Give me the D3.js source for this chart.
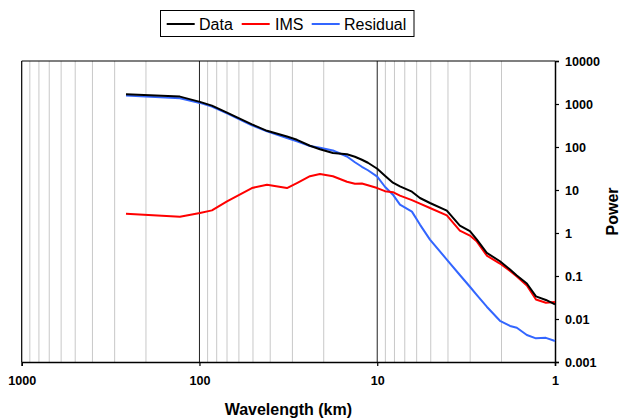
<!DOCTYPE html>
<html>
<head>
<meta charset="utf-8">
<script src="https://cdn.jsdelivr.net/npm/d3@7"></script>
<style>
  body { margin: 0; background: #fff; }
  svg { display: block; font-family: "Liberation Sans", Arial, sans-serif; }
</style>
</head>
<body>
<svg id="chart" width="622" height="420"></svg>
<script>
// Wavelength (km) sample positions
const wavelength = [259, 128.8, 99.4, 85.1, 70.0, 50.7, 41.7, 32.2, 28.3, 23.9, 21.0, 17.75, 14.8, 13.35, 12.2, 11.28, 10.0, 9.05, 8.16, 7.45, 6.38, 5.75, 5.05, 4.06, 3.43, 3.01, 2.75, 2.42, 2.04, 1.79, 1.64, 1.44, 1.28, 1.125, 1.0];
// Power values per series
const dataSeries = [1688, 1485, 1119, 918, 628, 336, 238, 175, 147, 107, 88.4, 72.2, 67.7, 59.2, 50.5, 43.0, 31.2, 21.5, 14.8, 12.1, 9.13, 6.52, 4.99, 3.31, 1.48, 1.10, 0.703, 0.345, 0.2205, 0.1415, 0.1027, 0.067, 0.0335, 0.0277, 0.0218];
const imsSeries = [2.82, 2.40, 2.93, 3.36, 5.44, 11.1, 13.3, 11.1, 14.5, 20.9, 23.5, 20.9, 15.6, 14.0, 14.2, 12.9, 11.1, 9.38, 8.89, 7.38, 5.80, 4.81, 3.82, 2.57, 1.14, 0.87, 0.632, 0.299, 0.195, 0.1306, 0.0974, 0.0602, 0.0285, 0.0239, 0.0247];
const residualSeries = [1566, 1363, 1060, 870, 605, 319, 231, 161, 136, 105, 95.8, 83.0, 60.2, 44.2, 34.7, 28.8, 20.4, 11.9, 7.78, 4.56, 3.14, 1.57, 0.703, 0.241, 0.1055, 0.0562, 0.0358, 0.0193, 0.00908, 0.00688, 0.00628, 0.00425, 0.00355, 0.00364, 0.00307];

const seriesNames = ["Data", "IMS", "Residual"];
const seriesColors = ["#000000", "#ff0000", "#3366ff"];
const xTicks = [1000, 100, 10, 1];
const yTicks = [0.001, 0.01, 0.1, 1, 10, 100, 1000, 10000];
const xTitle = "Wavelength (km)";
const yTitle = "Power";

const svg = d3.select("#chart");
const L = 21.7, R = 555, T = 61, B = 362;

const x = d3.scaleLog().domain([1000, 1]).range([L, R]);
const y = d3.scaleLog().domain([0.001, 10000]).range([B, T]);

// minor vertical gridlines
const minor = [];
[100, 10, 1].forEach(d => { for (let k = 2; k <= 9; k++) minor.push(d * k); });
svg.append("g").selectAll("line").data(minor).join("line")
  .attr("x1", d => x(d)).attr("x2", d => x(d))
  .attr("y1", T).attr("y2", B)
  .attr("stroke", "#c8c8c8").attr("stroke-width", 1);

// major vertical gridlines
svg.append("g").selectAll("line").data([100, 10]).join("line")
  .attr("x1", d => x(d)).attr("x2", d => x(d))
  .attr("y1", T).attr("y2", B)
  .attr("stroke", "#222").attr("stroke-width", 1);

// plot border top + left
svg.append("line").attr("x1", L).attr("x2", R).attr("y1", T).attr("y2", T).attr("stroke", "#000").attr("stroke-width", 1.2);
svg.append("line").attr("x1", L).attr("x2", L).attr("y1", T).attr("y2", B).attr("stroke", "#000").attr("stroke-width", 1.2);

// bottom axis
const xAxis = d3.axisBottom(x).tickValues(xTicks).tickFormat(d3.format("d")).tickSize(4).tickPadding(10);
const gx = svg.append("g").attr("transform", `translate(0,${B})`).call(xAxis);
gx.select(".domain").attr("stroke", "#000").attr("stroke-width", 1.5);
gx.selectAll(".tick line").attr("stroke", "#000").attr("stroke-width", 1.2);
gx.selectAll(".tick text").attr("font-size", "12.6px").attr("font-weight", "bold")
  .attr("font-family", "Liberation Sans, Arial, sans-serif").attr("fill", "#000");

// right axis
const yAxis = d3.axisRight(y).tickValues(yTicks).tickFormat(d => d >= 1 ? d3.format("d")(d) : d3.format("")(d)).tickSize(4).tickPadding(6);
const gy = svg.append("g").attr("transform", `translate(${R},0)`).call(yAxis);
gy.select(".domain").attr("stroke", "#000").attr("stroke-width", 1.5);
gy.selectAll(".tick line").attr("stroke", "#000").attr("stroke-width", 1.2);
gy.selectAll(".tick text").attr("font-size", "12.6px").attr("font-weight", "bold")
  .attr("font-family", "Liberation Sans, Arial, sans-serif").attr("fill", "#000");

// lines
const allSeries = [dataSeries, imsSeries, residualSeries];
const line = d3.line().x((d, i) => x(wavelength[i])).y(d => y(d));
// draw residual first, then IMS, then data on top
[2, 1, 0].forEach(si => {
  svg.append("path").datum(allSeries[si])
    .attr("d", line)
    .attr("fill", "none")
    .attr("stroke", seriesColors[si])
    .attr("stroke-width", 2)
    .attr("stroke-linejoin", "round");
});

// axis titles
svg.append("text").attr("x", (L + R) / 2).attr("y", 415)
  .attr("text-anchor", "middle").attr("font-size", "16px").attr("font-weight", "bold").text(xTitle);
svg.append("text").attr("transform", `translate(618,${(T + B) / 2}) rotate(-90)`)
  .attr("text-anchor", "middle").attr("font-size", "16px").attr("font-weight", "bold").text(yTitle);

// legend
const lg = svg.append("g");
lg.append("rect").attr("x", 160.5).attr("y", 10.5).attr("width", 253.5).attr("height", 26)
  .attr("fill", "#fff").attr("stroke", "#000").attr("stroke-width", 1);
const legLineX = [166.7, 241.7, 311.7];
const legTextX = [199, 275, 344];
seriesNames.forEach((n, i) => {
  lg.append("line").attr("x1", legLineX[i]).attr("x2", legLineX[i] + 28).attr("y1", 24).attr("y2", 24)
    .attr("stroke", seriesColors[i]).attr("stroke-width", 2);
  lg.append("text").attr("x", legTextX[i]).attr("y", 29.5).attr("font-size", "16px").attr("fill", "#000").text(n);
});
</script>
</body>
</html>
